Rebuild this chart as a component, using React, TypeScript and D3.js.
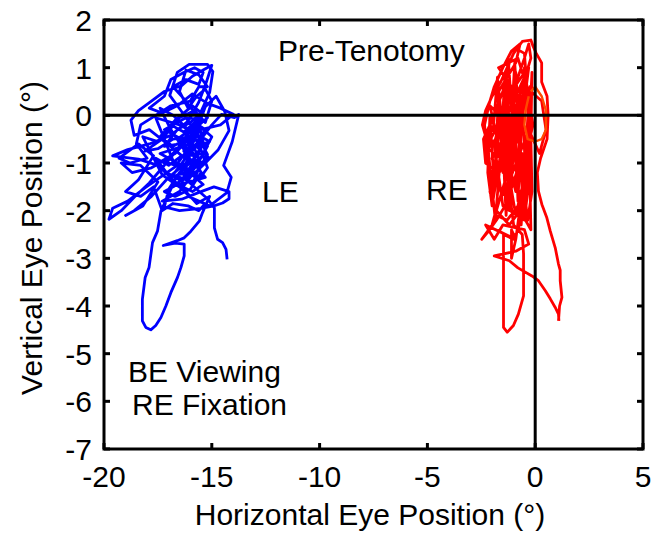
import React from "react";
import * as d3 from "d3";

const xTicks = [-20, -15, -10, -5, 0, 5];
const yTicks = [-7, -6, -5, -4, -3, -2, -1, 0, 1, 2];

const leTrace: [number, number][] = [
[-14.29,-3.02],[-14.34,-2.81],[-14.5,-2.67],[-14.73,-2.6],[-14.88,-2.36],[-14.88,-1.94],
[-15.2,-1.75],[-15.7,-1.55],[-16.3,-1.3],[-16.1,-0.85],[-15.5,-0.5],[-15.0,-0.2],[-14.55,0.02],
[-13.95,-0.05],[-13.75,0.02],[-14.05,-0.55],[-14.45,-1.05],[-14.1,-1.3],[-14.3,-1.62],[-15.1,-1.9],
[-16.0,-1.72],[-16.8,-1.35],[-17.5,-1.05],[-18.4,-0.92],[-19.6,-0.85],[-18.9,-0.72],[-17.9,-0.6],
[-16.9,-0.42],[-16.1,-0.12],[-15.6,0.28],[-15.25,0.7],[-15.0,1.05],[-15.4,0.95],[-15.9,0.82],
[-16.4,0.62],[-17.2,0.5],[-17.8,0.3],[-18.4,0.1],[-18.75,-0.1],[-18.6,-0.42],[-17.9,-0.3],
[-17.0,-0.62],[-16.2,-0.92],[-15.6,-1.12],[-15.2,-0.82],[-15.8,-0.32],[-16.4,0.08],[-16.95,0.42],
[-16.6,0.9],[-16.05,1.07],[-15.2,1.07],[-14.95,0.92],[-15.1,0.48],[-15.5,0.08],[-16.0,-0.3],
[-16.6,-0.72],[-17.3,-1.1],[-17.9,-1.42],[-18.6,-1.72],[-19.2,-2.0],[-19.77,-2.18],[-19.6,-1.95],
[-18.9,-1.8],[-18.1,-1.52],[-17.4,-1.3],[-16.7,-1.08],[-16.1,-0.7],[-15.7,-0.3],[-15.3,0.18],
[-14.8,0.4],[-14.4,0.08],[-14.2,-0.32],[-14.7,-0.72],[-15.3,-1.0],[-16.0,-1.3],[-16.5,-1.6],
[-17.3,-1.8],[-16.4,-1.76],[-15.5,-1.6],[-14.9,-1.5],[-14.2,-1.6],[-14.2,-1.75],[-14.5,-1.84],
[-14.9,-1.9],[-15.5,-1.95],[-16.5,-2.0],[-17.2,-1.92],[-17.0,-1.55],[-16.5,-1.2],[-15.9,-0.95],
[-15.4,-0.6],[-16.4,-1.4],[-15.6,-0.9],[-16.6,-0.5],[-15.4,-0.1],[-16.2,-0.05],[-17.2,-0.3],
[-16.0,-0.6],[-17.4,-0.8],[-15.8,-1.2],[-16.9,-1.5],[-15.3,-1.3],[-16.3,-0.75],[-15.1,-0.55],
[-16.5,-0.2],[-17.6,-0.05],[-16.8,-0.95],[-15.9,-1.45],[-15.5,-1.0],[-16.1,-0.4],[-15.2,-0.05],
[-15.9,0.2],[-16.7,-0.1],[-17.5,-0.55],[-18.2,-0.45],[-17.3,-1.25],[-16.2,-1.6],[-15.7,-1.85],
[-15.1,-1.7],[-15.43,-2.04],[-15.58,-2.22],[-15.97,-2.43],[-16.28,-2.57],[-16.6,-2.63],[-17.25,-2.73],
[-16.7,-2.68],[-16.28,-2.7],[-16.28,-2.95],[-16.43,-3.19],[-16.59,-3.4],[-16.9,-3.72],[-17.13,-4.0],
[-17.36,-4.24],[-17.6,-4.41],[-17.83,-4.5],[-18.06,-4.45],[-18.22,-4.31],[-18.22,-3.86],[-18.09,-3.4],
[-17.91,-3.19],[-17.75,-2.67],[-17.52,-2.43],[-17.36,-2.01],[-17.0,-1.65],[-16.6,-1.25],[-16.0,-1.2],
[-15.3,-0.75],[-15.7,0.0],[-16.3,0.35],[-16.8,0.6],[-16.2,0.75],[-15.6,0.65],[-15.4,0.9],[-15.8,1.0],
[-16.3,0.9],[-16.9,0.75],[-17.2,0.4],[-17.9,0.15],[-17.3,0.05],[-16.6,0.2],[-15.9,0.45],[-15.2,0.25],
[-14.6,0.15],[-14.0,0.02],[-14.6,-0.2],[-15.5,-0.3],[-16.3,-0.55],[-17.0,-0.9],[-17.8,-1.1],[-18.7,-1.2],
[-19.2,-1.0],[-18.3,-1.05],[-17.5,-1.4],[-18.2,-1.9],[-19.0,-2.1],[-18.6,-2.0],[-17.8,-1.7],[-17.0,-1.3],
[-16.2,-1.0],[-15.6,-0.5],[-15.3,-0.3],
[-15.8,-0.15],[-16.3,-0.35],[-16.9,-0.2],[-17.4,-0.45],[-16.8,-0.65],[-16.2,-0.5],[-15.6,-0.7],
[-15.1,-0.9],[-15.7,-1.05],[-16.4,-0.85],[-17.0,-1.05],[-17.6,-0.9],[-17.1,-1.2],[-16.5,-1.35],
[-15.9,-1.25],[-15.4,-1.45],[-15.9,-1.6],[-16.6,-1.45],[-17.2,-1.6],[-16.7,-1.7],[-16.0,-1.55],
[-15.5,-1.2],[-15.9,-0.8],[-16.5,-0.6],[-17.2,-0.65],[-16.6,-0.3],[-16.0,-0.15],[-15.5,0.05],
[-15.9,-0.4],[-16.7,-0.8],[-17.3,-0.95],[-16.4,-1.1],[-15.6,-1.35],[-15.2,-1.1],[-15.6,-0.6],
[-16.2,-0.25],[-16.8,0.0],[-17.4,0.15],[-16.9,-0.3],[-16.1,-0.85],[-15.4,-0.8],[-15.0,-0.45],
[-15.5,-0.25],[-16.3,-0.95],[-16.8,-1.25],[-16.2,-1.35],[-15.7,-1.05],[-15.2,-0.65],[-16.0,-0.45],
[-16.8,-0.5],[-17.5,-0.7],[-18.1,-0.75],[-17.3,-0.5],[-16.5,-0.05],[-15.8,0.1],[-15.3,-0.15],
[-15.0,0.3],[-15.3,0.55],[-15.7,0.4],[-16.1,0.15],[-16.5,0.5],[-16.2,0.95],[-15.6,0.85],[-15.2,0.6],
[-15.6,0.6],[-16.0,0.3],[-16.9,0.2],[-17.6,0.0],[-18.3,-0.2],[-18.5,-0.6],[-18.0,-0.9],[-18.8,-1.0],
[-19.3,-0.9],[-18.4,-0.6],[-17.7,-0.85],[-18.4,-1.35],[-19.0,-1.6],[-18.3,-1.7],[-17.7,-1.5],
[-17.3,-2.0],[-16.8,-1.85],[-16.1,-1.9],[-15.6,-2.0],[-15.3,-1.85]
];

const reTrace: [number, number][] = [
[1.08,-4.31],[1.13,-4.0],[1.24,-3.82],[1.16,-3.47],[1.16,-3.25],[1.08,-3.12],[0.93,-2.78],[0.7,-2.43],
[0.54,-2.15],[0.31,-1.87],[0.15,-1.59],[0.1,-1.2],[0.25,-0.9],[0.55,-0.5],[0.6,0.0],[0.55,0.4],
[0.3,0.7],[0.3,1.1],[0.05,1.3],[-0.1,1.45],[-0.2,1.58],[-0.6,1.55],[-1.0,1.3],[-1.3,1.0],[-1.6,0.7],
[-2.0,0.4],[-2.3,0.1],[-2.45,-0.2],[-2.2,-0.6],[-1.7,-0.2],[-1.2,0.3],[-0.8,0.8],[-0.5,1.2],[-0.3,1.5],
[-0.2,1.2],[-0.6,0.6],[-1.0,0.0],[-1.5,-0.6],[-2.0,-1.1],[-2.3,-1.0],[-2.4,-0.5],[-2.0,-0.1],[-1.5,0.5],
[-1.2,1.1],[-0.9,1.4],[-0.5,1.3],[-0.4,0.7],[-0.3,0.0],[-0.2,-0.8],[-0.4,-1.4],[-0.8,-1.9],[-1.3,-2.2],
[-1.8,-2.1],[-2.1,-1.6],[-1.9,-1.0],[-1.4,-0.4],[-0.9,0.2],[-0.2,0.5],[0.3,0.3],[0.5,-0.3],[0.2,-0.8],
[-0.3,-0.3],[-0.8,-0.9],[-1.3,-1.5],[-1.7,-1.8],[-2.0,-2.3],[-2.48,-2.6],[-2.2,-2.45],[-1.8,-2.2],
[-1.4,-1.9],[-1.0,-1.4],[-0.6,-0.8],[-0.3,-1.3],[-0.5,-1.9],[-0.8,-2.4],[-1.0,-2.6],[-1.47,-2.5],
[-1.47,-3.2],[-1.47,-3.9],[-1.47,-4.45],[-1.3,-4.55],[-1.01,-4.41],[-0.78,-4.17],[-0.54,-3.79],
[-0.54,-3.33],[-0.54,-2.9],[-0.6,-2.5],[-1.0,-2.3],[-1.8,0.6],[-1.2,-0.8],[-1.9,-1.4],[-0.6,0.4],
[-0.9,-1.6],[-1.6,-0.3],[-0.3,1.0],[-0.7,-0.4],[-2.1,0.2],[-1.4,-1.2],[-0.4,-1.8],[-1.1,0.6],[-1.7,1.0],
[-0.8,1.2],[-0.2,0.3],[-1.3,-0.2],[-2.2,-0.7],[-1.0,-1.1],[-0.2,-1.0],[-0.5,-2.2],[-1.5,-1.9],[-1.9,-0.6],
[-1.4,0.3],[-0.5,0.9],[-0.1,-0.2],[-0.7,-1.3],[-1.6,-1.6],[-2.0,-0.9],[-1.1,-0.3],[-0.4,0.4],[-0.9,-0.6],
[-1.8,-2.0],[-1.2,-2.3],[-0.7,-2.0],[-0.2,-2.4],
[-0.3,-0.2],[-0.5,1.0],[-0.7,-0.6],[-0.9,0.9],[-1.1,-1.0],[-1.3,0.7],[-1.5,-1.2],[-1.7,0.4],[-1.9,-1.5],
[-2.1,0.0],[-2.2,-1.2],[-2.0,-1.9],[-1.6,-0.8],[-1.4,0.9],[-1.2,-1.6],[-1.0,0.5],[-0.8,-1.8],[-0.6,0.2],
[-0.4,-1.6],[-0.2,-0.4],[-0.15,0.9],[-0.35,-1.0],[-0.55,-2.1],[-0.75,-0.3],[-0.95,1.1],[-1.15,-0.5],
[-1.35,-2.1],[-1.55,-0.1],[-1.75,0.8],[-1.95,-0.3],[-2.25,-0.4],[-2.05,-1.3],[-1.85,-2.2],[-1.65,-1.1],
[-1.45,0.2],[-1.25,1.2],[-1.05,-0.2],[-0.85,-1.3],[-0.65,-2.3],[-0.45,-0.8],[-0.25,0.6],[-0.15,-1.6],
[-0.35,-2.2],[-0.6,-1.2],[-0.8,0.0],[-1.0,-0.7],[-1.2,-2.0],[-1.4,-1.4],[-1.6,0.1],[-1.8,-0.9],[-2.0,-1.6],
[-2.2,-0.9],[-2.35,-0.2],[-2.1,0.3],[-1.9,0.6],[-1.5,1.0],[-1.1,1.35],[-0.7,1.5],[-0.9,1.1],[-1.3,0.8],
[-1.7,0.5],[-1.5,-0.6],[-1.2,-1.3],[-0.9,-2.1],[-0.6,-1.5],[-0.3,-0.6],
[-0.9,-2.6],[-1.1,-2.4],[-1.1,-3.0],[-0.9,-2.6],[-1.6,-2.45],[-2.3,-2.3],[-1.9,-2.6],[-1.5,-2.3],[-0.5,-2.4],
[-0.3,-2.7],[-0.9,-2.85],[-1.9,-2.95],[-1.2,-3.05],[-0.8,-3.2],[-0.15,-3.37],[0.15,-3.47],[0.47,-3.68],
[0.7,-3.85],[0.93,-4.03],[1.08,-4.17],[1.1,-4.31]
];

const orangeTrace: [number, number][] = [
[-0.2,0.5],[0.0,0.6],[0.3,0.4],[0.5,0.1],[0.5,-0.3],[0.3,-0.5],[0.0,-0.55],[-0.35,-0.5],[-0.5,-0.2],[-0.45,0.1],[-0.3,0.4]
];

const labels = [
  { text: "Pre-Tenotomy", x: 278, y: 61 },
  { text: "LE", x: 262, y: 202 },
  { text: "RE", x: 426, y: 200 },
  { text: "BE Viewing", x: 128, y: 382 },
  { text: "RE Fixation", x: 132, y: 415 },
];

const FONT = "'Liberation Sans', Arial, Helvetica, sans-serif";

export default function App() {
  const x = d3.scaleLinear().domain([-20, 5]).range([104, 643]);
  const y = d3.scaleLinear().domain([-7, 2]).range([449, 20]);
  const line = d3.line<[number, number]>().x((d) => x(d[0])).y((d) => y(d[1]));
  const x0 = x.range()[0], x1 = x.range()[1];
  const y0 = y.range()[0], y1 = y.range()[1];
  const tl = 6;
  return (
    <svg width={660} height={540} style={{ position: "absolute", left: 0, top: 0, background: "#fff" }} fontFamily={FONT}>
      <rect width={660} height={540} fill="#fff" />
      <path d={line(leTrace) || ""} fill="none" stroke="#0000ff" strokeWidth={2.8} strokeLinejoin="round" />
      <path d={line(reTrace) || ""} fill="none" stroke="#ff0000" strokeWidth={2.8} strokeLinejoin="round" />
      <path d={line(orangeTrace) || ""} fill="none" stroke="#ff4a00" strokeWidth={2.4} />
      <line x1={x0} x2={x1} y1={y(0)} y2={y(0)} stroke="#000" strokeWidth={3} />
      <line x1={x(0)} x2={x(0)} y1={y0} y2={y1} stroke="#000" strokeWidth={3} />
      <rect x={x0} y={y1} width={x1 - x0} height={y0 - y1} fill="none" stroke="#000" strokeWidth={3} />
      {xTicks.map((t) => (
        <g key={"x" + t}>
          <line x1={x(t)} x2={x(t)} y1={y0} y2={y0 - tl} stroke="#000" strokeWidth={3} />
          <line x1={x(t)} x2={x(t)} y1={y1} y2={y1 + tl} stroke="#000" strokeWidth={3} />
          <text x={x(t)} y={487} fontSize={30} textAnchor="middle" fill="#000">{String(t)}</text>
        </g>
      ))}
      {yTicks.map((t) => (
        <g key={"y" + t}>
          <line x1={x0} x2={x0 + tl} y1={y(t)} y2={y(t)} stroke="#000" strokeWidth={3} />
          <line x1={x1} x2={x1 - tl} y1={y(t)} y2={y(t)} stroke="#000" strokeWidth={3} />
          <text x={92} y={y(t) + 11} fontSize={30} textAnchor="end" fill="#000">{String(t)}</text>
        </g>
      ))}
      <text x={370} y={525} fontSize={30} textAnchor="middle" fill="#000">Horizontal Eye Position (°)</text>
      <text transform={`translate(42,238) rotate(-90)`} fontSize={30} textAnchor="middle" fill="#000">Vertical Eye Position (°)</text>
      {labels.map((l) => (
        <text key={l.text + l.y} x={l.x} y={l.y} fontSize={30} fill="#000">{l.text}</text>
      ))}
    </svg>
  );
}
